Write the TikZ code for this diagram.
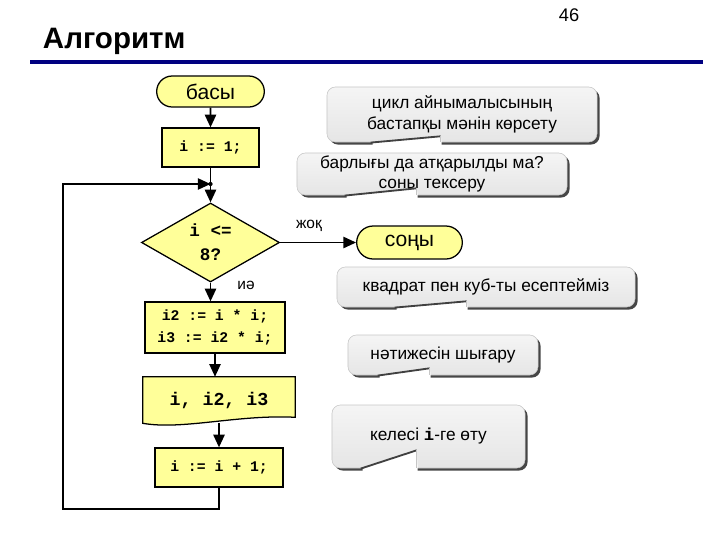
\documentclass[tikz,border=0pt]{standalone}
\usepackage{fontspec}
\setmainfont{Liberation Sans}
\newfontfamily\codefont{Liberation Mono}
\usetikzlibrary{arrows.meta,shapes.geometric,shapes.misc,shadows,calc}
\pgfdeclarelayer{bg}
\pgfsetlayers{bg,main}
\definecolor{boxyellow}{RGB}{255,255,153}
\definecolor{rulenavy}{RGB}{0,0,128}
\tikzset{
  block/.style={draw, line width=0.9pt, fill=boxyellow, inner sep=0pt, align=center,
    font=\codefont\bfseries\fontsize{10.5}{15.5}\selectfont},
  term/.style={rounded rectangle, draw, line width=0.9pt, fill=boxyellow,
    font=\fontsize{15}{18}\selectfont},
  link/.style={line width=1.2pt},
  arr/.style={link, -{Triangle[length=9pt,width=8pt]}},
  bubble/.style={rounded corners=6pt, draw=gray!45, top color=gray!8, bottom color=gray!20,
    drop shadow={shadow xshift=1.8pt, shadow yshift=-1.8pt, opacity=0.85, fill=black!85},
    inner sep=0pt, align=center, font=\fontsize{12.3}{14.5}\selectfont},
  lbl/.style={font=\fontsize{11}{13}\selectfont}
}
\newcommand{\notch}[4]{%
  \fill [white] ($(#1.south west)+(#2,0.6)$) -- ($(#1.south west)+(#3,-#4)$)
    -- ($(#1.south west)+(#3+1,0)$) -- ($(#1.south west)+(#3+1,5)$) -- ($(#1.south west)+(#2,5)$) -- cycle;
  \draw [black!75, line width=1.3pt] ($(#1.south west)+(#2-2,0.3)$) -- ($(#1.south west)+(#3,-#4)$);
  \draw [gray!45, line width=0.4pt] ($(#1.south west)+(#3,-#4)$) -- ($(#1.south west)+(#3,0)$);
}
\begin{document}
\begin{tikzpicture}[x=0.025cm, y=-0.025cm]
  \useasboundingbox (0,0) rectangle (720,540);
  \node [anchor=base west, font=\bfseries\fontsize{21}{25}\selectfont] (title) at (38,48) {Алгоритм};
  \node [anchor=base, font=\fontsize{13}{15}\selectfont] (page) at (569,21) {46};
  \draw [rulenavy, line width=2.2pt] (30,62) -- (703,62);

  \node [term, minimum width=2.925cm, minimum height=0.775cm] (start) at (210.5,91.5) {басы};
  \node [block, minimum width=2.425cm, minimum height=0.975cm] (init) at (210.5,147.5) {i := 1;};
  \node [diamond, draw, line width=0.9pt, fill=boxyellow, inner sep=0pt, align=center,
    minimum width=3.45cm, minimum height=1.625cm,
    font=\codefont\bfseries\fontsize{12.5}{17}\selectfont] (test) at (210.5,242.5) {i <=\\8?};
  \node [term, minimum width=2.875cm, minimum height=0.825cm] (done) at (409.5,242.5) {соңы};
  \node [lbl] (no) at (309,226) {жоқ};
  \node [lbl] (yes) at (246,285) {иә};
  \node [block, minimum width=3.5cm, minimum height=1.275cm] (calc) at (215,327.5) {i2 := i * i;\\i3 := i2 * i;};
  \node [inner sep=0pt, minimum width=3.8cm, minimum height=1.15cm,
    font=\codefont\bfseries\fontsize{13}{16}\selectfont] (doc) at (219,400) {i, i2, i3};
  \node [block, minimum width=3.2cm, minimum height=0.975cm] (inc) at (219,467.5) {i := i + 1;};
  \begin{pgfonlayer}{bg}
    \draw [line width=0.9pt, fill=boxyellow] (doc.north west) -- (doc.north east)
      -- ($(doc.south east)+(0,-6)$) .. controls ($(doc.south west)+(95,-9)$) and ($(doc.south west)+(40,7)$) .. (doc.south west) -- cycle;
  \end{pgfonlayer}

  \coordinate (join) at (init.south |- 0,184);
  \coordinate (corner) at (63,509);
  \draw [arr] (start) -- (init);
  \draw [link] (init) -- (join);
  \draw [arr] (join) -- (test);
  \draw [arr] (test) -- (done);
  \draw [arr] (test.south) -- (test.south |- calc.north);
  \draw [arr] (calc.south) -- (calc.south |- doc.north);
  \draw [arr] (doc.south) -- (doc.south |- inc.north);
  \draw [arr] (inc.south) |- (corner) |- (join);
  \fill (join) circle [radius=1.5pt];

  \node [bubble, minimum width=6.75cm, minimum height=1.375cm] (c1) at (462,114.5) {цикл айнымалысының\\бастапқы мәнін көрсету};
  \notch{c1}{46}{114}{6}
  \node [bubble, minimum width=6.75cm, minimum height=1.05cm] (c2) at (432,174) {барлығы да атқарылды ма?\\соны тексеру};
  \notch{c2}{50}{120}{7}
  \node [bubble, minimum width=7.45cm, minimum height=1cm] (c3) at (486,287) {квадрат пен куб-ты есептейміз};
  \notch{c3}{60}{130}{6}
  \node [bubble, minimum width=4.75cm, minimum height=1cm] (c4) at (443,355) {нәтижесін шығару};
  \notch{c4}{32}{82}{7}
  \node [bubble, minimum width=4.825cm, minimum height=1.575cm] (c5) at (428.5,436.5) {келесі {\codefont\bfseries i}-ге өту};
  \notch{c5}{31}{85}{18}
\end{tikzpicture}
\end{document}
